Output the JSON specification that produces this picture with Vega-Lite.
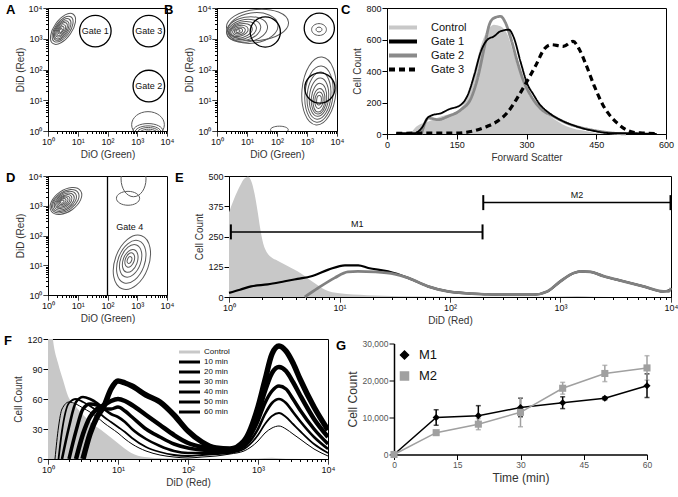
{
"$schema": "https://vega.github.io/schema/vega-lite/v6.json",
"background": "white",
"padding": {"left": 3, "top": 3, "right": 2, "bottom": 2},
"config": {
  "font": "Liberation Sans",
  "view": {"stroke": "#000", "strokeWidth": 1},
  "axis": {"grid": false, "domainColor": "#000", "domainWidth": 1, "tickColor": "#000", "tickWidth": 1, "tickSize": 5, "labelColor": "#111", "labelFontSize": 9, "labelPadding": 1, "titleColor": "#333", "titleFontSize": 10, "titleFontWeight": "normal", "titlePadding": 3, "labelOverlap": false, "labelFlush": false},
  "title": {"fontSize": 13, "fontWeight": "bold", "anchor": "start", "frame": "bounds", "offset": -13, "color": "#000"},
  "legend": {"padding": 0, "rowPadding": 0, "titlePadding": 0, "labelColor": "#111"}
},
"resolve": {"scale": {"color": "independent", "size": "independent", "shape": "independent", "strokeDash": "independent"}, "legend": {"color": "independent", "size": "independent", "shape": "independent", "strokeDash": "independent"}},
"datasets": {
  "A_rings": [
    {"x":3.2,"y":2100,"r":0.6,"e":"e5","a":-55},{"x":3.1,"y":2050,"r":0.5,"e":"e5","a":-55},{"x":3.0,"y":2000,"r":0.42,"e":"e5","a":-55},{"x":2.9,"y":1950,"r":0.35,"e":"e5","a":-55},{"x":2.85,"y":1950,"r":0.28,"e":"e5","a":-55},{"x":2.8,"y":1900,"r":0.21,"e":"e5","a":-55},{"x":2.75,"y":1900,"r":0.14,"e":"e5","a":-55},{"x":2.7,"y":1850,"r":0.07,"e":"e6","a":-55},
    {"x":2300,"y":1.6,"r":0.55,"e":"e8","a":0},{"x":2300,"y":1.0,"r":0.5,"e":"e5","a":0},{"x":2300,"y":0.9,"r":0.44,"e":"e5","a":0},{"x":2350,"y":0.85,"r":0.38,"e":"e5","a":0},{"x":2400,"y":0.8,"r":0.32,"e":"e5","a":0},{"x":2400,"y":0.75,"r":0.26,"e":"e5","a":0}
  ],
  "A_gates": [{"x":39,"y":1780,"r":0.53,"g":"Gate 1"},{"x":2450,"y":1780,"r":0.53,"g":"Gate 3"},{"x":2450,"y":29,"r":0.53,"g":"Gate 2"}],
  "B_rings": [
    {"x":22.4,"y":2818,"r":1.05,"e":"e5","a":-5},{"x":15.8,"y":2240,"r":0.85,"e":"e6","a":-8},{"x":10,"y":2000,"r":0.7,"e":"e6","a":-10},{"x":7.9,"y":1900,"r":0.58,"e":"e6","a":-15},{"x":7.1,"y":1860,"r":0.48,"e":"e6","a":-15},{"x":6.3,"y":1820,"r":0.39,"e":"e6","a":-15},{"x":5.6,"y":1800,"r":0.3,"e":"e6","a":-15},{"x":5.4,"y":1780,"r":0.22,"e":"e6","a":-15},{"x":5.2,"y":1780,"r":0.14,"e":"e6","a":-15},{"x":5.0,"y":1780,"r":0.07,"e":"e6","a":-15},
    {"x":2512,"y":1995,"r":0.25,"e":"e8","a":0},{"x":2512,"y":1995,"r":0.1,"e":"e8","a":0},
    {"x":2512,"y":20,"r":1.15,"e":"e5","a":-85},{"x":2512,"y":15.8,"r":0.95,"e":"e5","a":-85},{"x":2512,"y":14.1,"r":0.8,"e":"e5","a":-85},{"x":2512,"y":12.6,"r":0.65,"e":"e5","a":-85},{"x":2512,"y":11.2,"r":0.52,"e":"e5","a":-85},{"x":2512,"y":10,"r":0.4,"e":"e5","a":-85},{"x":2512,"y":10,"r":0.28,"e":"e5","a":-85},{"x":2512,"y":10,"r":0.16,"e":"e5","a":-85},
    {"x":120,"y":1.1,"r":0.3,"e":"e4","a":0}
  ],
  "B_gates": [{"x":40.7,"y":1660,"r":0.51},{"x":2570,"y":2190,"r":0.51},{"x":2690,"y":25,"r":0.51}],
  "D_rings": [
    {"x":4.0,"y":1450,"r":0.6,"e":"e6","a":-35},{"x":3.8,"y":1420,"r":0.52,"e":"e6","a":-35},{"x":3.6,"y":1400,"r":0.45,"e":"e6","a":-35},{"x":3.5,"y":1380,"r":0.38,"e":"e6","a":-35},{"x":3.4,"y":1380,"r":0.31,"e":"e6","a":-35},{"x":3.3,"y":1380,"r":0.25,"e":"e6","a":-35},{"x":3.2,"y":1380,"r":0.19,"e":"e6","a":-35},{"x":3.1,"y":1380,"r":0.13,"e":"e6","a":-35},{"x":3.0,"y":1380,"r":0.07,"e":"e6","a":-35},
    {"x":490,"y":1780,"r":0.39,"e":"e6","a":0},{"x":750,"y":8000,"r":0.6,"e":"e7","a":90},
    {"x":660,"y":12.6,"r":0.95,"e":"e6","a":-70},{"x":630,"y":13,"r":0.75,"e":"e6","a":-70},{"x":600,"y":14,"r":0.57,"e":"e6","a":-70},{"x":580,"y":14,"r":0.4,"e":"e6","a":-70},{"x":560,"y":15,"r":0.25,"e":"e6","a":-70},{"x":550,"y":15,"r":0.12,"e":"e6","a":-70}
  ],
  "D_gate": [{"x":100,"lx":560,"ly":200,"g":"Gate 4"}],
  "C_hist": [
    {"s":"Control","x":50,"y":0},{"s":"Control","x":64,"y":49},{"s":"Control","x":89,"y":80},{"s":"Control","x":117,"y":112},{"s":"Control","x":149,"y":144},{"s":"Control","x":174,"y":250},{"s":"Control","x":191,"y":440},{"s":"Control","x":205,"y":588},{"s":"Control","x":220,"y":673},{"s":"Control","x":230,"y":694},{"s":"Control","x":244,"y":684},{"s":"Control","x":259,"y":631},{"s":"Control","x":273,"y":504},{"s":"Control","x":287,"y":377},{"s":"Control","x":301,"y":292},{"s":"Control","x":322,"y":186},{"s":"Control","x":351,"y":112},{"s":"Control","x":386,"y":49},{"s":"Control","x":429,"y":17},{"s":"Control","x":464,"y":0},
    {"s":"Gate 2","x":74,"y":0},{"s":"Gate 2","x":89,"y":101},{"s":"Gate 2","x":110,"y":91},{"s":"Gate 2","x":131,"y":112},{"s":"Gate 2","x":159,"y":154},{"s":"Gate 2","x":181,"y":229},{"s":"Gate 2","x":195,"y":356},{"s":"Gate 2","x":209,"y":546},{"s":"Gate 2","x":220,"y":694},{"s":"Gate 2","x":230,"y":736},{"s":"Gate 2","x":244,"y":747},{"s":"Gate 2","x":255,"y":705},{"s":"Gate 2","x":266,"y":610},{"s":"Gate 2","x":280,"y":461},{"s":"Gate 2","x":294,"y":334},{"s":"Gate 2","x":308,"y":250},{"s":"Gate 2","x":329,"y":165},{"s":"Gate 2","x":358,"y":112},{"s":"Gate 2","x":386,"y":70},{"s":"Gate 2","x":421,"y":38},{"s":"Gate 2","x":457,"y":17},{"s":"Gate 2","x":485,"y":6},{"s":"Gate 2","x":514,"y":0},
    {"s":"Gate 3","x":20,"y":4},{"s":"Gate 3","x":60,"y":5},{"s":"Gate 3","x":100,"y":5},{"s":"Gate 3","x":150,"y":6},{"s":"Gate 3","x":188,"y":21},{"s":"Gate 3","x":216,"y":49},{"s":"Gate 3","x":237,"y":80},{"s":"Gate 3","x":258,"y":133},{"s":"Gate 3","x":280,"y":228},{"s":"Gate 3","x":301,"y":334},{"s":"Gate 3","x":319,"y":430},{"s":"Gate 3","x":340,"y":546},{"s":"Gate 3","x":354,"y":567},{"s":"Gate 3","x":370,"y":560},{"s":"Gate 3","x":379,"y":556},{"s":"Gate 3","x":400,"y":588},{"s":"Gate 3","x":414,"y":535},{"s":"Gate 3","x":428,"y":440},{"s":"Gate 3","x":446,"y":303},{"s":"Gate 3","x":464,"y":186},{"s":"Gate 3","x":478,"y":123},{"s":"Gate 3","x":499,"y":59},{"s":"Gate 3","x":514,"y":28},{"s":"Gate 3","x":530,"y":10},{"s":"Gate 3","x":549,"y":6},{"s":"Gate 3","x":580,"y":3},
    {"s":"Gate 1","x":20,"y":4},{"s":"Gate 1","x":40,"y":5},{"s":"Gate 1","x":60,"y":6},{"s":"Gate 1","x":75,"y":40},{"s":"Gate 1","x":88,"y":105},{"s":"Gate 1","x":96,"y":118},{"s":"Gate 1","x":117,"y":133},{"s":"Gate 1","x":131,"y":154},{"s":"Gate 1","x":159,"y":186},{"s":"Gate 1","x":174,"y":250},{"s":"Gate 1","x":188,"y":377},{"s":"Gate 1","x":202,"y":525},{"s":"Gate 1","x":216,"y":599},{"s":"Gate 1","x":230,"y":620},{"s":"Gate 1","x":244,"y":652},{"s":"Gate 1","x":262,"y":662},{"s":"Gate 1","x":273,"y":610},{"s":"Gate 1","x":287,"y":461},{"s":"Gate 1","x":301,"y":324},{"s":"Gate 1","x":315,"y":250},{"s":"Gate 1","x":329,"y":186},{"s":"Gate 1","x":344,"y":144},{"s":"Gate 1","x":372,"y":91},{"s":"Gate 1","x":407,"y":49},{"s":"Gate 1","x":443,"y":21},{"s":"Gate 1","x":478,"y":6},{"s":"Gate 1","x":514,"y":6},{"s":"Gate 1","x":563,"y":2},{"s":"Gate 1","x":580,"y":0}
  ],
  "E_hist": [
    {"s":"Control","x":1,"y":350},{"s":"Control","x":1.122,"y":410},{"s":"Control","x":1.259,"y":460},{"s":"Control","x":1.38,"y":490},{"s":"Control","x":1.496,"y":497},{"s":"Control","x":1.585,"y":480},{"s":"Control","x":1.698,"y":430},{"s":"Control","x":1.82,"y":350},{"s":"Control","x":1.905,"y":290},{"s":"Control","x":2.042,"y":220},{"s":"Control","x":2.138,"y":195},{"s":"Control","x":2.399,"y":165},{"s":"Control","x":2.754,"y":150},{"s":"Control","x":3.162,"y":135},{"s":"Control","x":4.169,"y":106},{"s":"Control","x":5.623,"y":65},{"s":"Control","x":7.413,"y":30},{"s":"Control","x":10,"y":15},{"s":"Control","x":17.78,"y":7},{"s":"Control","x":35.48,"y":3},{"s":"Control","x":100,"y":1},{"s":"Control","x":631,"y":1},{"s":"Control","x":1000,"y":2},{"s":"Control","x":1413,"y":4},{"s":"Control","x":1995,"y":1},{"s":"Control","x":3981,"y":0},{"s":"Control","x":10000,"y":0},
    {"s":"Black","x":1,"y":17},{"s":"Black","x":1.259,"y":30},{"s":"Black","x":1.585,"y":44},{"s":"Black","x":2.239,"y":52},{"s":"Black","x":3.2,"y":65},{"s":"Black","x":4.17,"y":75},{"s":"Black","x":5.56,"y":86},{"s":"Black","x":7.94,"y":113},{"s":"Black","x":11.2,"y":131},{"s":"Black","x":14.8,"y":131},{"s":"Black","x":18.2,"y":120},{"s":"Black","x":27.5,"y":106},{"s":"Black","x":41.7,"y":79},{"s":"Black","x":63.1,"y":44},{"s":"Black","x":95.5,"y":23},{"s":"Black","x":144.5,"y":15},{"s":"Black","x":204,"y":12},{"s":"Black","x":288,"y":10},{"s":"Black","x":575,"y":10},{"s":"Black","x":759,"y":23},{"s":"Black","x":1000,"y":65},{"s":"Black","x":1318,"y":99},{"s":"Black","x":1514,"y":106},{"s":"Black","x":1862,"y":104},{"s":"Black","x":2455,"y":86},{"s":"Black","x":3715,"y":65},{"s":"Black","x":5623,"y":44},{"s":"Black","x":8511,"y":23},{"s":"Black","x":10000,"y":30},
    {"s":"Gray","x":4.85,"y":0},{"s":"Gray","x":6.4,"y":37},{"s":"Gray","x":9.04,"y":79},{"s":"Gray","x":11.9,"y":104},{"s":"Gray","x":14.7,"y":106},{"s":"Gray","x":20.9,"y":104},{"s":"Gray","x":31.6,"y":95},{"s":"Gray","x":41.7,"y":79},{"s":"Gray","x":63.1,"y":44},{"s":"Gray","x":95.5,"y":23},{"s":"Gray","x":144.5,"y":15},{"s":"Gray","x":288,"y":10},{"s":"Gray","x":575,"y":10},{"s":"Gray","x":759,"y":23},{"s":"Gray","x":1000,"y":65},{"s":"Gray","x":1318,"y":99},{"s":"Gray","x":1514,"y":106},{"s":"Gray","x":1862,"y":104},{"s":"Gray","x":2455,"y":86},{"s":"Gray","x":3715,"y":65},{"s":"Gray","x":5623,"y":44},{"s":"Gray","x":8511,"y":23},{"s":"Gray","x":9550,"y":23},{"s":"Gray","x":10000,"y":37}
  ],
  "E_markers": [{"m":"M1","x1":1.04,"x2":197,"y":269,"lx":14.5},{"m":"M2","x1":200,"x2":9900,"y":390,"lx":1413}],
  "F_ctrl": [{"x":1,"y":170},{"x":1.1,"y":140},{"x":1.18,"y":119},{"x":1.39,"y":96},{"x":1.64,"y":79},{"x":1.93,"y":63},{"x":2.4,"y":54},{"x":3.0,"y":46},{"x":4.17,"y":36},{"x":5.75,"y":29},{"x":8.07,"y":21},{"x":11.2,"y":13},{"x":15.5,"y":6},{"x":24,"y":2},{"x":46.8,"y":0.7},{"x":100,"y":0.3},{"x":1000,"y":0.5},{"x":1585,"y":1.2},{"x":2512,"y":0.3},{"x":10000,"y":0}],
  "F_time": [
    {"x":1.259,"10 min":0},
    {"x":1.413,"10 min":32,"20 min":0},
    {"x":1.585,"10 min":50,"20 min":28,"30 min":0},
    {"x":1.995,"10 min":57,"20 min":56,"30 min":32,"40 min":0},
    {"x":2.512,"10 min":55,"20 min":60,"30 min":57,"40 min":28,"50 min":0},
    {"x":3.162,"10 min":51,"20 min":57,"30 min":62,"40 min":50,"50 min":25,"60 min":0},
    {"x":3.981,"10 min":47,"20 min":53,"30 min":60,"40 min":55,"50 min":42,"60 min":25},
    {"x":5.012,"10 min":42,"20 min":48,"30 min":56,"40 min":54,"50 min":50,"60 min":42},
    {"x":6.31,"10 min":36,"20 min":42,"30 min":50,"40 min":50,"50 min":54,"60 min":53},
    {"x":7.943,"10 min":31,"20 min":37,"30 min":45,"40 min":50,"50 min":58,"60 min":70},
    {"x":10,"10 min":26,"20 min":32,"30 min":42,"40 min":52,"50 min":60,"60 min":78},
    {"x":12.59,"10 min":20,"20 min":27,"30 min":37,"40 min":48,"50 min":58,"60 min":76},
    {"x":15.85,"10 min":15,"20 min":21,"30 min":30,"40 min":42,"50 min":54,"60 min":73},
    {"x":25.12,"10 min":8,"20 min":12,"30 min":20,"40 min":30,"50 min":44,"60 min":64},
    {"x":39.81,"10 min":4,"20 min":7,"30 min":13,"40 min":22,"50 min":34,"60 min":57},
    {"x":63.1,"10 min":2,"20 min":4,"30 min":8,"40 min":15,"50 min":24,"60 min":44},
    {"x":100,"10 min":1,"20 min":3,"30 min":6,"40 min":11,"50 min":16,"60 min":28},
    {"x":158.5,"10 min":2,"20 min":4,"30 min":6,"40 min":9,"50 min":12,"60 min":17},
    {"x":251.2,"10 min":3,"20 min":5,"30 min":6,"40 min":8,"50 min":10,"60 min":11},
    {"x":398.1,"10 min":5,"20 min":6,"30 min":7,"40 min":8,"50 min":9,"60 min":10},
    {"x":631,"10 min":8,"20 min":10,"30 min":12,"40 min":14,"50 min":16,"60 min":18},
    {"x":1000,"10 min":18,"20 min":24,"30 min":30,"40 min":38,"50 min":45,"60 min":52},
    {"x":1259,"10 min":26,"20 min":35,"30 min":45,"40 min":56,"50 min":68,"60 min":79},
    {"x":1585,"10 min":31,"20 min":43,"30 min":56,"40 min":68,"50 min":86,"60 min":105},
    {"x":1995,"10 min":33,"20 min":46,"30 min":60,"40 min":73,"50 min":92,"60 min":113},
    {"x":2512,"10 min":30,"20 min":42,"30 min":56,"40 min":70,"50 min":88,"60 min":108},
    {"x":3162,"10 min":25,"20 min":35,"30 min":47,"40 min":60,"50 min":77,"60 min":96},
    {"x":3981,"10 min":20,"20 min":28,"30 min":38,"40 min":49,"50 min":64,"60 min":80},
    {"x":6310,"10 min":10,"20 min":15,"30 min":22,"40 min":30,"50 min":40,"60 min":52},
    {"x":10000,"10 min":3,"20 min":6,"30 min":10,"40 min":15,"50 min":22,"60 min":29}
  ],
  "G_counts": [
    {"t":0,"s":"M1","v":0,"err":0},{"t":10,"s":"M1","v":10000,"err":2100},{"t":20,"s":"M1","v":10500,"err":2700},{"t":30,"s":"M1","v":12700,"err":2500},{"t":40,"s":"M1","v":14000,"err":1600},{"t":50,"s":"M1","v":15200,"err":400},{"t":60,"s":"M1","v":18600,"err":3200},
    {"t":0,"s":"M2","v":0,"err":0},{"t":10,"s":"M2","v":5900,"err":300},{"t":20,"s":"M2","v":8200,"err":1500},{"t":30,"s":"M2","v":11400,"err":3900},{"t":40,"s":"M2","v":17900,"err":1600},{"t":50,"s":"M2","v":21900,"err":2200},{"t":60,"s":"M2","v":23400,"err":3300}
  ]
},
"vconcat": [
 {"spacing": 50, "bounds": "flush", "resolve": {"scale": {"color": "independent", "size": "independent", "shape": "independent", "strokeDash": "independent"}, "legend": {"color": "independent", "size": "independent", "shape": "independent", "strokeDash": "independent"}}, "hconcat": [
  {"title": {"text": "A", "dx": -9}, "width": 119, "height": 123, "view": {"stroke": "#000", "strokeWidth": 1},
   "layer": [
    {"data": {"name": "A_rings"},
     "mark": {"type": "point", "filled": false, "color": "#5a5a5a", "strokeWidth": 1, "opacity": 1, "clip": true},
     "encoding": {
      "x": {"field": "x", "type": "quantitative", "scale": {"type": "log", "domain": [1, 10000]}, "axis": {"title": "DiO (Green)", "values": [1,2,3,4,5,6,7,8,9,10,20,30,40,50,60,70,80,90,100,200,300,400,500,600,700,800,900,1000,2000,3000,4000,5000,6000,7000,8000,9000,10000], "labelExpr": "datum.value === 1 ? '10⁰' : datum.value === 10 ? '10¹' : datum.value === 100 ? '10²' : datum.value === 1000 ? '10³' : datum.value === 10000 ? '10⁴' : ''", "tickDash": {"condition": {"test": "indexof([1,10,100,1000,10000], datum.value) >= 0", "value": [1,0]}, "value": [2.5,20]}}},
      "y": {"field": "y", "type": "quantitative", "scale": {"type": "log", "domain": [1, 10000]}, "axis": {"title": "DiD (Red)", "values": [1,2,3,4,5,6,7,8,9,10,20,30,40,50,60,70,80,90,100,200,300,400,500,600,700,800,900,1000,2000,3000,4000,5000,6000,7000,8000,9000,10000], "labelExpr": "datum.value === 1 ? '10⁰' : datum.value === 10 ? '10¹' : datum.value === 100 ? '10²' : datum.value === 1000 ? '10³' : datum.value === 10000 ? '10⁴' : ''", "tickDash": {"condition": {"test": "indexof([1,10,100,1000,10000], datum.value) >= 0", "value": [1,0]}, "value": [2.5,20]}}},
      "size": {"field": "r", "type": "quantitative", "scale": {"type": "pow", "exponent": 2, "domain": [0, 1], "range": [0, 3540]}, "legend": null},
      "shape": {"field": "e", "type": "nominal", "scale": {"domain": ["c","e4","e5","e6","e7","e8"], "range": ["M-1,0A1,1 0 1,0 1,0A1,1 0 1,0 -1,0Z","M-1,0A1,0.4 0 1,0 1,0A1,0.4 0 1,0 -1,0Z","M-1,0A1,0.5 0 1,0 1,0A1,0.5 0 1,0 -1,0Z","M-1,0A1,0.6 0 1,0 1,0A1,0.6 0 1,0 -1,0Z","M-1,0A1,0.7 0 1,0 1,0A1,0.7 0 1,0 -1,0Z","M-1,0A1,0.8 0 1,0 1,0A1,0.8 0 1,0 -1,0Z"]}, "legend": null},
      "angle": {"field": "a", "type": "quantitative", "scale": null}
     }},
    {"data": {"name": "A_gates"},
     "mark": {"type": "point", "filled": false, "color": "#000", "strokeWidth": 1.3, "opacity": 1, "shape": "M-1,0A1,1 0 1,0 1,0A1,1 0 1,0 -1,0Z"},
     "encoding": {
      "x": {"field": "x", "type": "quantitative", "scale": {"type": "log", "domain": [1, 10000]}},
      "y": {"field": "y", "type": "quantitative", "scale": {"type": "log", "domain": [1, 10000]}},
      "size": {"field": "r", "type": "quantitative", "scale": {"type": "pow", "exponent": 2, "domain": [0, 1], "range": [0, 3540]}, "legend": null}
     }},
    {"data": {"name": "A_gates"},
     "mark": {"type": "text", "fontSize": 9, "color": "#111"},
     "encoding": {
      "x": {"field": "x", "type": "quantitative", "scale": {"type": "log", "domain": [1, 10000]}},
      "y": {"field": "y", "type": "quantitative", "scale": {"type": "log", "domain": [1, 10000]}},
      "text": {"field": "g"}
     }}
   ]},
  {"title": {"text": "B", "dx": -20}, "width": 120, "height": 123, "view": {"stroke": "#000", "strokeWidth": 1},
   "layer": [
    {"data": {"name": "B_rings"},
     "mark": {"type": "point", "filled": false, "color": "#5a5a5a", "strokeWidth": 1, "opacity": 1, "clip": true},
     "encoding": {
      "x": {"field": "x", "type": "quantitative", "scale": {"type": "log", "domain": [1, 10000]}, "axis": {"title": "DiO (Green)", "values": [1,2,3,4,5,6,7,8,9,10,20,30,40,50,60,70,80,90,100,200,300,400,500,600,700,800,900,1000,2000,3000,4000,5000,6000,7000,8000,9000,10000], "labelExpr": "datum.value === 1 ? '10⁰' : datum.value === 10 ? '10¹' : datum.value === 100 ? '10²' : datum.value === 1000 ? '10³' : datum.value === 10000 ? '10⁴' : ''", "tickDash": {"condition": {"test": "indexof([1,10,100,1000,10000], datum.value) >= 0", "value": [1,0]}, "value": [2.5,20]}}},
      "y": {"field": "y", "type": "quantitative", "scale": {"type": "log", "domain": [1, 10000]}, "axis": {"title": "DiD (Red)", "values": [1,2,3,4,5,6,7,8,9,10,20,30,40,50,60,70,80,90,100,200,300,400,500,600,700,800,900,1000,2000,3000,4000,5000,6000,7000,8000,9000,10000], "labelExpr": "datum.value === 1 ? '10⁰' : datum.value === 10 ? '10¹' : datum.value === 100 ? '10²' : datum.value === 1000 ? '10³' : datum.value === 10000 ? '10⁴' : ''", "tickDash": {"condition": {"test": "indexof([1,10,100,1000,10000], datum.value) >= 0", "value": [1,0]}, "value": [2.5,20]}}},
      "size": {"field": "r", "type": "quantitative", "scale": {"type": "pow", "exponent": 2, "domain": [0, 1], "range": [0, 3510]}, "legend": null},
      "shape": {"field": "e", "type": "nominal", "scale": {"domain": ["c","e4","e5","e6","e7","e8"], "range": ["M-1,0A1,1 0 1,0 1,0A1,1 0 1,0 -1,0Z","M-1,0A1,0.4 0 1,0 1,0A1,0.4 0 1,0 -1,0Z","M-1,0A1,0.5 0 1,0 1,0A1,0.5 0 1,0 -1,0Z","M-1,0A1,0.6 0 1,0 1,0A1,0.6 0 1,0 -1,0Z","M-1,0A1,0.7 0 1,0 1,0A1,0.7 0 1,0 -1,0Z","M-1,0A1,0.8 0 1,0 1,0A1,0.8 0 1,0 -1,0Z"]}, "legend": null},
      "angle": {"field": "a", "type": "quantitative", "scale": null}
     }},
    {"data": {"name": "B_gates"},
     "mark": {"type": "point", "filled": false, "color": "#000", "strokeWidth": 1.3, "opacity": 1, "shape": "M-1,0A1,1 0 1,0 1,0A1,1 0 1,0 -1,0Z"},
     "encoding": {
      "x": {"field": "x", "type": "quantitative", "scale": {"type": "log", "domain": [1, 10000]}},
      "y": {"field": "y", "type": "quantitative", "scale": {"type": "log", "domain": [1, 10000]}},
      "size": {"field": "r", "type": "quantitative", "scale": {"type": "pow", "exponent": 2, "domain": [0, 1], "range": [0, 3510]}, "legend": null}
     }}
   ]},
  {"title": {"text": "C", "dx": -12}, "width": 279, "height": 126, "view": {"stroke": "#000", "strokeWidth": 1},
   "layer": [
    {"data": {"name": "C_hist"}, "transform": [{"filter": "datum.s === 'Control'"}],
     "mark": {"type": "area", "color": "#c8c8c8", "interpolate": "monotone"},
     "encoding": {
      "x": {"field": "x", "type": "quantitative", "scale": {"domain": [0, 600]}, "axis": {"title": "Forward Scatter", "values": [0,150,300,450,600], "tickCount": 20}},
      "y": {"field": "y", "type": "quantitative", "scale": {"domain": [0, 800]}, "axis": {"title": "Cell Count", "values": [0,200,400,600,800], "tickCount": 20}}
     }},
    {"data": {"name": "C_hist"}, "transform": [{"filter": "datum.s === 'Gate 2'"}],
     "mark": {"type": "line", "interpolate": "monotone", "strokeWidth": 2.8},
     "encoding": {
      "x": {"field": "x", "type": "quantitative", "scale": {"domain": [0, 600]}},
      "y": {"field": "y", "type": "quantitative", "scale": {"domain": [0, 800]}},
      "color": {"field": "s", "type": "nominal", "scale": {"domain": ["Control","Gate 1","Gate 2","Gate 3"], "range": ["#c8c8c8","#000000","#8a8a8a","#000000"]},
        "legend": {"orient": "none", "legendX": 10.5, "legendY": 14, "title": null, "symbolType": "M-7,0H7", "symbolSize": 16, "symbolStrokeWidth": 4, "labelFontSize": 11, "labelOffset": 22.5, "rowPadding": -4}},
      "strokeDash": {"field": "s", "type": "nominal", "scale": {"domain": ["Control","Gate 1","Gate 2","Gate 3"], "range": [[1,0],[1,0],[1,0],[6,4]]}}
     }},
    {"data": {"name": "C_hist"}, "transform": [{"filter": "datum.s === 'Gate 3'"}],
     "mark": {"type": "line", "interpolate": "monotone", "strokeWidth": 3.2},
     "encoding": {
      "x": {"field": "x", "type": "quantitative", "scale": {"domain": [0, 600]}},
      "y": {"field": "y", "type": "quantitative", "scale": {"domain": [0, 800]}},
      "color": {"field": "s", "type": "nominal", "scale": {"domain": ["Control","Gate 1","Gate 2","Gate 3"], "range": ["#c8c8c8","#000000","#8a8a8a","#000000"]}, "legend": null},
      "strokeDash": {"field": "s", "type": "nominal", "scale": {"domain": ["Control","Gate 1","Gate 2","Gate 3"], "range": [[1,0],[1,0],[1,0],[6,4]]}}
     }},
    {"data": {"name": "C_hist"}, "transform": [{"filter": "datum.s === 'Gate 1'"}],
     "mark": {"type": "line", "interpolate": "monotone", "strokeWidth": 1.8},
     "encoding": {
      "x": {"field": "x", "type": "quantitative", "scale": {"domain": [0, 600]}},
      "y": {"field": "y", "type": "quantitative", "scale": {"domain": [0, 800]}},
      "color": {"field": "s", "type": "nominal", "scale": {"domain": ["Control","Gate 1","Gate 2","Gate 3"], "range": ["#c8c8c8","#000000","#8a8a8a","#000000"]}, "legend": null},
      "strokeDash": {"field": "s", "type": "nominal", "scale": {"domain": ["Control","Gate 1","Gate 2","Gate 3"], "range": [[1,0],[1,0],[1,0],[6,4]]}}
     }}
   ]}
 ]},
 {"spacing": 62, "bounds": "flush", "resolve": {"scale": {"color": "independent", "size": "independent", "shape": "independent", "strokeDash": "independent"}, "legend": {"color": "independent", "size": "independent", "shape": "independent", "strokeDash": "independent"}}, "hconcat": [
  {"title": {"text": "D", "dx": -9}, "width": 119, "height": 119, "view": {"stroke": "#000", "strokeWidth": 1},
   "layer": [
    {"data": {"name": "D_rings"},
     "mark": {"type": "point", "filled": false, "color": "#5a5a5a", "strokeWidth": 1, "opacity": 1, "clip": true},
     "encoding": {
      "x": {"field": "x", "type": "quantitative", "scale": {"type": "log", "domain": [1, 10000]}, "axis": {"title": "DiO (Green)", "values": [1,2,3,4,5,6,7,8,9,10,20,30,40,50,60,70,80,90,100,200,300,400,500,600,700,800,900,1000,2000,3000,4000,5000,6000,7000,8000,9000,10000], "labelExpr": "datum.value === 1 ? '10⁰' : datum.value === 10 ? '10¹' : datum.value === 100 ? '10²' : datum.value === 1000 ? '10³' : datum.value === 10000 ? '10⁴' : ''", "tickDash": {"condition": {"test": "indexof([1,10,100,1000,10000], datum.value) >= 0", "value": [1,0]}, "value": [2.5,20]}}},
      "y": {"field": "y", "type": "quantitative", "scale": {"type": "log", "domain": [1, 10000]}, "axis": {"title": "DiD (Red)", "values": [1,2,3,4,5,6,7,8,9,10,20,30,40,50,60,70,80,90,100,200,300,400,500,600,700,800,900,1000,2000,3000,4000,5000,6000,7000,8000,9000,10000], "labelExpr": "datum.value === 1 ? '10⁰' : datum.value === 10 ? '10¹' : datum.value === 100 ? '10²' : datum.value === 1000 ? '10³' : datum.value === 10000 ? '10⁴' : ''", "tickDash": {"condition": {"test": "indexof([1,10,100,1000,10000], datum.value) >= 0", "value": [1,0]}, "value": [2.5,20]}}},
      "size": {"field": "r", "type": "quantitative", "scale": {"type": "pow", "exponent": 2, "domain": [0, 1], "range": [0, 3540]}, "legend": null},
      "shape": {"field": "e", "type": "nominal", "scale": {"domain": ["c","e4","e5","e6","e7","e8"], "range": ["M-1,0A1,1 0 1,0 1,0A1,1 0 1,0 -1,0Z","M-1,0A1,0.4 0 1,0 1,0A1,0.4 0 1,0 -1,0Z","M-1,0A1,0.5 0 1,0 1,0A1,0.5 0 1,0 -1,0Z","M-1,0A1,0.6 0 1,0 1,0A1,0.6 0 1,0 -1,0Z","M-1,0A1,0.7 0 1,0 1,0A1,0.7 0 1,0 -1,0Z","M-1,0A1,0.8 0 1,0 1,0A1,0.8 0 1,0 -1,0Z"]}, "legend": null},
      "angle": {"field": "a", "type": "quantitative", "scale": null}
     }},
    {"data": {"name": "D_gate"},
     "mark": {"type": "rule", "color": "#000", "strokeWidth": 1.3},
     "encoding": {"x": {"field": "x", "type": "quantitative", "scale": {"type": "log", "domain": [1, 10000]}}}},
    {"data": {"name": "D_gate"},
     "mark": {"type": "text", "fontSize": 9, "color": "#111"},
     "encoding": {
      "x": {"field": "lx", "type": "quantitative", "scale": {"type": "log", "domain": [1, 10000]}},
      "y": {"field": "ly", "type": "quantitative", "scale": {"type": "log", "domain": [1, 10000]}},
      "text": {"field": "g"}
     }}
   ]},
  {"title": {"text": "E", "dx": -20}, "width": 442, "height": 121, "view": {"stroke": "#000", "strokeWidth": 1},
   "layer": [
    {"data": {"name": "E_hist"}, "transform": [{"filter": "datum.s === 'Control'"}],
     "mark": {"type": "area", "color": "#c8c8c8", "interpolate": "monotone", "clip": true},
     "encoding": {
      "x": {"field": "x", "type": "quantitative", "scale": {"type": "log", "domain": [1, 10000]}, "axis": {"title": "DiD (Red)", "values": [1,2,3,4,5,6,7,8,9,10,20,30,40,50,60,70,80,90,100,200,300,400,500,600,700,800,900,1000,2000,3000,4000,5000,6000,7000,8000,9000,10000], "labelExpr": "datum.value === 1 ? '10⁰' : datum.value === 10 ? '10¹' : datum.value === 100 ? '10²' : datum.value === 1000 ? '10³' : datum.value === 10000 ? '10⁴' : ''", "tickDash": {"condition": {"test": "indexof([1,10,100,1000,10000], datum.value) >= 0", "value": [1,0]}, "value": [2.5,20]}}},
      "y": {"field": "y", "type": "quantitative", "scale": {"domain": [0, 500]}, "axis": {"title": "Cell Count", "values": [0,125,250,375,500], "tickCount": 20}}
     }},
    {"data": {"name": "E_hist"}, "transform": [{"filter": "datum.s === 'Black'"}],
     "mark": {"type": "line", "color": "#000", "strokeWidth": 2.2, "interpolate": "monotone"},
     "encoding": {
      "x": {"field": "x", "type": "quantitative", "scale": {"type": "log", "domain": [1, 10000]}},
      "y": {"field": "y", "type": "quantitative", "scale": {"domain": [0, 500]}}
     }},
    {"data": {"name": "E_hist"}, "transform": [{"filter": "datum.s === 'Gray'"}],
     "mark": {"type": "line", "color": "#808080", "strokeWidth": 2.8, "interpolate": "monotone"},
     "encoding": {
      "x": {"field": "x", "type": "quantitative", "scale": {"type": "log", "domain": [1, 10000]}},
      "y": {"field": "y", "type": "quantitative", "scale": {"domain": [0, 500]}}
     }},
    {"data": {"name": "E_markers"},
     "mark": {"type": "rule", "color": "#000", "strokeWidth": 1.5},
     "encoding": {
      "x": {"field": "x1", "type": "quantitative", "scale": {"type": "log", "domain": [1, 10000]}},
      "x2": {"field": "x2"},
      "y": {"field": "y", "type": "quantitative", "scale": {"domain": [0, 500]}}
     }},
    {"data": {"name": "E_markers"},
     "mark": {"type": "point", "filled": false, "color": "#000", "strokeWidth": 2, "opacity": 1, "shape": "M0,-1V1", "size": 225},
     "encoding": {
      "x": {"field": "x1", "type": "quantitative", "scale": {"type": "log", "domain": [1, 10000]}},
      "y": {"field": "y", "type": "quantitative", "scale": {"domain": [0, 500]}}
     }},
    {"data": {"name": "E_markers"},
     "mark": {"type": "point", "filled": false, "color": "#000", "strokeWidth": 2, "opacity": 1, "shape": "M0,-1V1", "size": 225},
     "encoding": {
      "x": {"field": "x2", "type": "quantitative", "scale": {"type": "log", "domain": [1, 10000]}},
      "y": {"field": "y", "type": "quantitative", "scale": {"domain": [0, 500]}}
     }},
    {"data": {"name": "E_markers"},
     "mark": {"type": "text", "fontSize": 9, "color": "#111", "dy": -8},
     "encoding": {
      "x": {"field": "lx", "type": "quantitative", "scale": {"type": "log", "domain": [1, 10000]}},
      "y": {"field": "y", "type": "quantitative", "scale": {"domain": [0, 500]}},
      "text": {"field": "m"}
     }}
   ]}
 ]},
 {"spacing": 66, "bounds": "flush", "center": true, "resolve": {"scale": {"color": "independent", "size": "independent", "shape": "independent", "strokeDash": "independent"}, "legend": {"color": "independent", "size": "independent", "shape": "independent", "strokeDash": "independent"}}, "hconcat": [
  {"title": {"text": "F", "dx": -10}, "width": 280, "height": 120, "view": {"stroke": "#000", "strokeWidth": 1},
   "layer": [
    {"data": {"name": "F_ctrl"},
     "mark": {"type": "area", "color": "#c8c8c8", "interpolate": "monotone", "clip": true},
     "encoding": {
      "x": {"field": "x", "type": "quantitative", "scale": {"type": "log", "domain": [1, 10000]}, "axis": {"title": "DiD (Red)", "values": [1,2,3,4,5,6,7,8,9,10,20,30,40,50,60,70,80,90,100,200,300,400,500,600,700,800,900,1000,2000,3000,4000,5000,6000,7000,8000,9000,10000], "labelExpr": "datum.value === 1 ? '10⁰' : datum.value === 10 ? '10¹' : datum.value === 100 ? '10²' : datum.value === 1000 ? '10³' : datum.value === 10000 ? '10⁴' : ''", "tickDash": {"condition": {"test": "indexof([1,10,100,1000,10000], datum.value) >= 0", "value": [1,0]}, "value": [2.5,20]}}},
      "y": {"field": "y", "type": "quantitative", "scale": {"domain": [0, 120]}, "axis": {"title": "Cell Count", "values": [0,30,60,90,120], "tickCount": 20}}
     }},
    {"data": {"name": "F_time"}, "transform": [{"fold": ["10 min","20 min","30 min","40 min","50 min","60 min"], "as": ["s","y"]}, {"filter": "datum.s === '10 min' && isValid(datum.y)"}],
     "mark": {"type": "line", "interpolate": "monotone", "clip": true, "strokeWidth": 1},
     "encoding": {
      "x": {"field": "x", "type": "quantitative", "scale": {"type": "log", "domain": [1, 10000]}},
      "y": {"field": "y", "type": "quantitative", "scale": {"domain": [0, 120]}},
      "color": {"field": "s", "type": "nominal", "scale": {"domain": ["Control","10 min","20 min","30 min","40 min","50 min","60 min"], "range": ["#c8c8c8","#000","#000","#000","#000","#000","#000"]},
        "legend": {"orient": "none", "legendX": 137.5, "legendY": 9, "title": null, "symbolType": "M-7,0H7", "symbolSize": 9, "symbolStrokeWidth": 3, "labelFontSize": 8, "labelOffset": 10.5, "rowPadding": -4}}
     }},
    {"data": {"name": "F_time"}, "transform": [{"fold": ["10 min","20 min","30 min","40 min","50 min","60 min"], "as": ["s","y"]}, {"filter": "datum.s === '20 min' && isValid(datum.y)"}],
     "mark": {"type": "line", "interpolate": "monotone", "clip": true, "strokeWidth": 1.8},
     "encoding": {
      "x": {"field": "x", "type": "quantitative", "scale": {"type": "log", "domain": [1, 10000]}},
      "y": {"field": "y", "type": "quantitative", "scale": {"domain": [0, 120]}},
      "color": {"field": "s", "type": "nominal", "scale": {"domain": ["Control","10 min","20 min","30 min","40 min","50 min","60 min"], "range": ["#c8c8c8","#000","#000","#000","#000","#000","#000"]}, "legend": null}
     }},
    {"data": {"name": "F_time"}, "transform": [{"fold": ["10 min","20 min","30 min","40 min","50 min","60 min"], "as": ["s","y"]}, {"filter": "datum.s === '30 min' && isValid(datum.y)"}],
     "mark": {"type": "line", "interpolate": "monotone", "clip": true, "strokeWidth": 2.6},
     "encoding": {
      "x": {"field": "x", "type": "quantitative", "scale": {"type": "log", "domain": [1, 10000]}},
      "y": {"field": "y", "type": "quantitative", "scale": {"domain": [0, 120]}},
      "color": {"field": "s", "type": "nominal", "scale": {"domain": ["Control","10 min","20 min","30 min","40 min","50 min","60 min"], "range": ["#c8c8c8","#000","#000","#000","#000","#000","#000"]}, "legend": null}
     }},
    {"data": {"name": "F_time"}, "transform": [{"fold": ["10 min","20 min","30 min","40 min","50 min","60 min"], "as": ["s","y"]}, {"filter": "datum.s === '40 min' && isValid(datum.y)"}],
     "mark": {"type": "line", "interpolate": "monotone", "clip": true, "strokeWidth": 3.5},
     "encoding": {
      "x": {"field": "x", "type": "quantitative", "scale": {"type": "log", "domain": [1, 10000]}},
      "y": {"field": "y", "type": "quantitative", "scale": {"domain": [0, 120]}},
      "color": {"field": "s", "type": "nominal", "scale": {"domain": ["Control","10 min","20 min","30 min","40 min","50 min","60 min"], "range": ["#c8c8c8","#000","#000","#000","#000","#000","#000"]}, "legend": null}
     }},
    {"data": {"name": "F_time"}, "transform": [{"fold": ["10 min","20 min","30 min","40 min","50 min","60 min"], "as": ["s","y"]}, {"filter": "datum.s === '50 min' && isValid(datum.y)"}],
     "mark": {"type": "line", "interpolate": "monotone", "clip": true, "strokeWidth": 4.5},
     "encoding": {
      "x": {"field": "x", "type": "quantitative", "scale": {"type": "log", "domain": [1, 10000]}},
      "y": {"field": "y", "type": "quantitative", "scale": {"domain": [0, 120]}},
      "color": {"field": "s", "type": "nominal", "scale": {"domain": ["Control","10 min","20 min","30 min","40 min","50 min","60 min"], "range": ["#c8c8c8","#000","#000","#000","#000","#000","#000"]}, "legend": null}
     }},
    {"data": {"name": "F_time"}, "transform": [{"fold": ["10 min","20 min","30 min","40 min","50 min","60 min"], "as": ["s","y"]}, {"filter": "datum.s === '60 min' && isValid(datum.y)"}],
     "mark": {"type": "line", "interpolate": "monotone", "clip": true, "strokeWidth": 5.5},
     "encoding": {
      "x": {"field": "x", "type": "quantitative", "scale": {"type": "log", "domain": [1, 10000]}},
      "y": {"field": "y", "type": "quantitative", "scale": {"domain": [0, 120]}},
      "color": {"field": "s", "type": "nominal", "scale": {"domain": ["Control","10 min","20 min","30 min","40 min","50 min","60 min"], "range": ["#c8c8c8","#000","#000","#000","#000","#000","#000"]}, "legend": null}
     }}
   ]},
  {"title": {"text": "G", "dx": -10}, "width": 253, "height": 111, "view": {"stroke": null},
   "layer": [
    {"data": {"name": "G_counts"},
     "mark": {"type": "line", "strokeWidth": 1.5},
     "encoding": {
      "x": {"field": "t", "type": "quantitative", "title": "Time (min)", "scale": {"domain": [0, 60]}, "axis": {"title": "Time (min)", "titleFontSize": 12, "labelColor": "#555", "labelFontSize": 8.5, "domainWidth": 1.5, "values": [0,15,30,45,60], "tickCount": 20}},
      "y": {"field": "v", "type": "quantitative", "title": "Cell Count", "scale": {"domain": [0, 30000]}, "axis": {"title": "Cell Count", "titleFontSize": 12, "labelColor": "#555", "labelFontSize": 8.5, "domainWidth": 1.5, "values": [0,10000,20000,30000], "tickCount": 20, "labelExpr": "format(datum.value, ',')"}},
      "color": {"field": "s", "type": "nominal", "scale": {"domain": ["M1","M2"], "range": ["#000000","#a0a0a0"]},
        "legend": {"orient": "none", "legendX": 4, "legendY": 5, "title": null, "labelFontSize": 13, "labelOffset": 8, "rowPadding": 6, "symbolSize": 64}}
     }},
    {"data": {"name": "G_counts"},
     "mark": {"type": "errorbar", "ticks": true, "thickness": 1.5},
     "encoding": {
      "x": {"field": "t", "type": "quantitative", "title": "Time (min)", "scale": {"domain": [0, 60]}},
      "y": {"field": "v", "type": "quantitative", "title": "Cell Count", "scale": {"domain": [0, 30000]}},
      "yError": {"field": "err"},
      "color": {"field": "s", "type": "nominal", "scale": {"domain": ["M1","M2"], "range": ["#000000","#a0a0a0"]}, "legend": null}
     }},
    {"data": {"name": "G_counts"},
     "mark": {"type": "point", "filled": true, "opacity": 1, "size": 50},
     "encoding": {
      "x": {"field": "t", "type": "quantitative", "title": "Time (min)", "scale": {"domain": [0, 60]}},
      "y": {"field": "v", "type": "quantitative", "title": "Cell Count", "scale": {"domain": [0, 30000]}},
      "color": {"field": "s", "type": "nominal", "scale": {"domain": ["M1","M2"], "range": ["#000000","#a0a0a0"]}},
      "shape": {"field": "s", "type": "nominal", "scale": {"domain": ["M1","M2"], "range": ["diamond","square"]}}
     }}
   ]}
 ]}
],
"spacing": 8
}
